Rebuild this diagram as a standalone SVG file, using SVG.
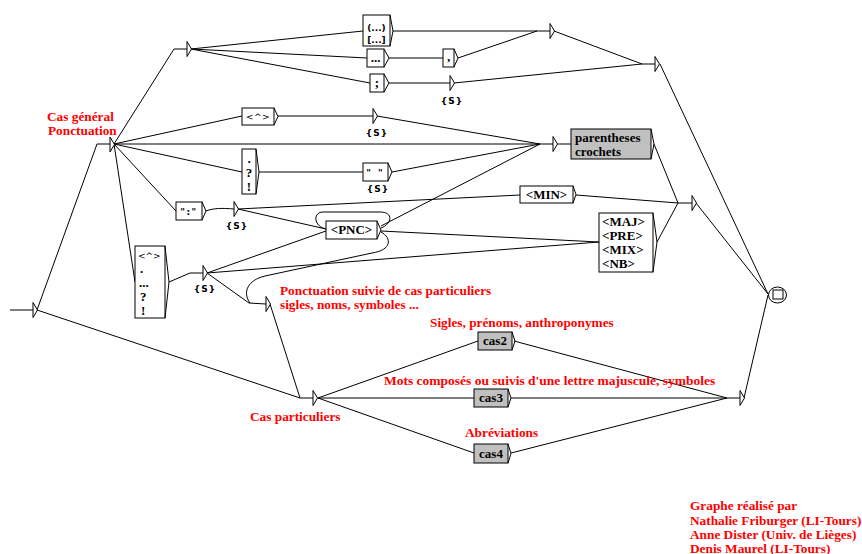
<svg xmlns="http://www.w3.org/2000/svg" xmlns:xlink="http://www.w3.org/1999/xlink" width="862" height="554" viewBox="0 0 862 554">
<style>
.e{fill:none;stroke:#000;stroke-width:1}
.b{fill:#fff;stroke:#000;stroke-width:1}
.g{fill:#c0c0c0;stroke:#000;stroke-width:1}
.r{fill:#f00;font-family:"Liberation Serif",serif;font-weight:bold;font-size:13.3px}
.t{fill:#000;font-family:"Liberation Serif",serif;font-weight:bold;font-size:13px}
.s{fill:#000;font-family:"DejaVu Sans",sans-serif;font-weight:bold;font-size:9px}
.m{fill:#000;font-family:"DejaVu Sans",sans-serif;font-size:9px}
.c{text-anchor:middle}
</style>
<defs>
<path id="tri" d="M0,-7.5 L4.5,0 L0,7.5 Z" fill="#fff" stroke="#000" stroke-width="1"/>
</defs>
<rect width="862" height="554" fill="#fff"/>
<g id="connectors" class="e">
<path d="M10,310 L33,310"/>
<path d="M37,310 L97,144 L110,144"/>
<path d="M37,310 L300,398 L313,398"/>
<path d="M114,144 L174,49 L187,49"/>
<path d="M114,144 L242,116"/>
<path d="M114,144 L553,144"/>
<path d="M114,144 L242,172"/>
<path d="M114,144 L176,211"/>
<path d="M114,144 L135,282"/>
<path d="M191,49 L363,31"/>
<path d="M191,49 L367,58"/>
<path d="M191,49 L370,83"/>
<path d="M393,31 L550,31"/>
<path d="M389,58 L443,58"/>
<path d="M458,58 L537,31"/>
<path d="M389,83 L450,83"/>
<path d="M454,83 L642,64 L655,64"/>
<path d="M554,31 L642,64"/>
<path d="M660,64 L768,294"/>
<path d="M278,116 L373,116"/>
<path d="M377,116 L540,144"/>
<path d="M259,172 L363,172"/>
<path d="M392,172 L540,144"/>
<path d="M381,226 L540,144"/>
<path d="M558,144 L571,144"/>
<path d="M654,144 L678,203 L692,203"/>
<path d="M657,242 L678,203"/>
<path d="M576,195 L678,203"/>
<path d="M696,203 L768,294"/>
<path d="M206,211 C214,208 222,208 234,209"/>
<path d="M238,209 L520,195"/>
<path d="M238,209 L326,229"/>
<path d="M169,282 L190,273 L203,273"/>
<path d="M207,273 L326,231"/>
<path d="M207,273 L599,242"/>
<path d="M207,273 L249,303 L266,304"/>
<path d="M381,231 L599,242"/>
<path d="M381,228 C392,224 394,212 380,212 L323,212 C313,212 313,226 326,229"/>
<path d="M381,232 C392,238 392,250 372,253 L265,276 C248,280 242,292 250,303"/>
<path d="M270,304 L300,398"/>
<path d="M318,398 L478,341"/>
<path d="M318,398 L474,398"/>
<path d="M318,398 L474,453"/>
<path d="M514,341 L727,398"/>
<path d="M511,398 L740,398"/>
<path d="M511,453 L727,398"/>
<path d="M744,398 L768,295"/>
</g>
<g id="n-init"><use xlink:href="#tri" x="33" y="310"/></g>
<g id="n-general"><use xlink:href="#tri" x="110" y="144.5"/>
<text class="r" x="47" y="121">Cas général</text><text class="r" x="48" y="135">Ponctuation</text></g>
<g id="n-top"><use xlink:href="#tri" x="187" y="49"/></g>
<g id="n-paren"><rect class="b" x="363" y="15" width="27" height="31"/><path class="e" d="M390,15 L393,31 L390,46"/>
<text class="s c" x="376.5" y="31">(...)</text><text class="s c" x="376.5" y="43">[...]</text></g>
<g id="n-dots"><rect class="b" x="367" y="49" width="17" height="18"/><path class="e" d="M384,49 L389,58 L384,67"/><text class="t c" x="375.5" y="62">...</text></g>
<g id="n-semi"><rect class="b" x="370" y="74" width="14" height="18"/><path class="e" d="M384,74 L389,83 L384,92"/><text class="t c" x="377" y="87">;</text></g>
<g id="n-comma"><rect class="b" x="443" y="49" width="11" height="18"/><path class="e" d="M454,49 L458,58 L454,67"/><text class="t c" x="448.5" y="61">,</text></g>
<g id="n-s1"><use xlink:href="#tri" x="450" y="83"/><text class="s c" x="452" y="104" letter-spacing="1">{S}</text></g>
<g id="n-j1"><use xlink:href="#tri" x="550" y="31"/></g>
<g id="n-j2"><use xlink:href="#tri" x="655" y="64"/></g>
<g id="n-caret"><rect class="b" x="242" y="108" width="32" height="17"/><path class="e" d="M274,108 L278,116.5 L274,125"/><text class="m c" x="258" y="120" letter-spacing="0.5">&lt;^&gt;</text></g>
<g id="n-s2"><use xlink:href="#tri" x="373" y="116"/><text class="s c" x="377" y="136" letter-spacing="1">{S}</text></g>
<g id="n-punct"><rect class="b" x="242" y="149" width="14" height="45"/><path class="e" d="M256,149 L259,172 L256,194"/>
<text class="t c" x="249" y="163">.</text><text class="t c" x="249" y="177">?</text><text class="t c" x="249" y="191">!</text></g>
<g id="n-quotes"><rect class="b" x="363" y="163" width="25" height="18"/><path class="e" d="M388,163 L392,172 L388,181"/><text class="s c" x="375.5" y="176" letter-spacing="2">" "</text>
<text class="s c" x="378" y="192" letter-spacing="1">{S}</text></g>
<g id="n-colon"><rect class="b" x="176" y="202" width="26" height="18"/><path class="e" d="M202,202 L206,211 L202,220"/><text class="s c" x="189" y="215" letter-spacing="1.5">":"</text></g>
<g id="n-s3"><use xlink:href="#tri" x="234" y="209"/><text class="s c" x="237" y="229" letter-spacing="1">{S}</text></g>
<g id="n-tall"><rect class="b" x="135" y="246" width="30" height="72"/><path class="e" d="M165,246 L169,282 L165,318"/>
<text class="m" x="138" y="259">&lt;^&gt;</text><text class="t" x="140" y="273">.</text><text class="t" x="139" y="287">...</text><text class="t" x="140" y="301">?</text><text class="t" x="141" y="315">!</text></g>
<g id="n-s4"><use xlink:href="#tri" x="203" y="273"/><text class="s c" x="205" y="292" letter-spacing="1">{S}</text></g>
<g id="n-pnc"><rect class="b" x="326" y="221" width="51" height="18"/><path class="e" d="M377,221 L381,230 L377,239"/><text class="t c" x="351.5" y="234">&lt;PNC&gt;</text></g>
<g id="n-j3"><use xlink:href="#tri" x="553" y="144"/></g>
<g id="n-parcro"><rect class="g" x="571" y="129" width="80" height="30"/><path class="e" d="M651,129 L654,144 L651,159"/>
<text class="t" x="575" y="142">parentheses</text><text class="t" x="575" y="156">crochets</text></g>
<g id="n-min"><rect class="b" x="520" y="186" width="53" height="17"/><path class="e" d="M573,186 L576,194.5 L573,203"/><text class="t c" x="546.5" y="199">&lt;MIN&gt;</text></g>
<g id="n-maj"><rect class="b" x="599" y="213" width="54" height="59"/><path class="e" d="M653,213 L657,242 L653,272"/>
<text class="t" x="602" y="226">&lt;MAJ&gt;</text><text class="t" x="602" y="240">&lt;PRE&gt;</text><text class="t" x="602" y="254">&lt;MIX&gt;</text><text class="t" x="602" y="268">&lt;NB&gt;</text></g>
<g id="n-j4"><use xlink:href="#tri" x="692" y="203"/></g>
<g id="n-final"><ellipse class="b" cx="777.5" cy="295" rx="9" ry="8"/><rect class="b" x="773" y="290" width="10" height="9"/></g>
<g id="n-suivie"><use xlink:href="#tri" x="266" y="304"/>
<text class="r" x="280" y="295">Ponctuation suivie de cas particuliers</text><text class="r" x="280" y="309">sigles, noms, symboles ...</text></g>
<g id="n-part"><use xlink:href="#tri" x="313" y="398"/><text class="r" x="250" y="421">Cas particuliers</text></g>
<g id="n-cas2"><rect class="g" x="478" y="332" width="34" height="18"/><path class="e" d="M512,332 L515,341 L512,350"/><text class="t c" x="495" y="345">cas2</text>
<text class="r" x="430" y="327">Sigles, prénoms, anthroponymes</text></g>
<g id="n-cas3"><rect class="g" x="474" y="389" width="34" height="18"/><path class="e" d="M508,389 L511,398 L508,407"/><text class="t c" x="491" y="402">cas3</text>
<text class="r" x="384" y="385" style="font-size:13.5px">Mots composés ou suivis d'une lettre majuscule, symboles</text></g>
<g id="n-cas4"><rect class="g" x="474" y="444" width="34" height="19"/><path class="e" d="M508,444 L511,453.5 L508,463"/><text class="t c" x="491" y="458">cas4</text>
<text class="r" x="465" y="437">Abréviations</text></g>
<g id="n-j5"><use xlink:href="#tri" x="740" y="398"/></g>
<g id="credits"><text class="r" x="690" y="510">Graphe réalisé par</text><text class="r" x="690" y="524.5">Nathalie Friburger (LI-Tours)</text><text class="r" x="690" y="538.5">Anne Dister (Univ. de Lièges)</text><text class="r" x="690" y="552.5">Denis Maurel (LI-Tours)</text></g>
</svg>
